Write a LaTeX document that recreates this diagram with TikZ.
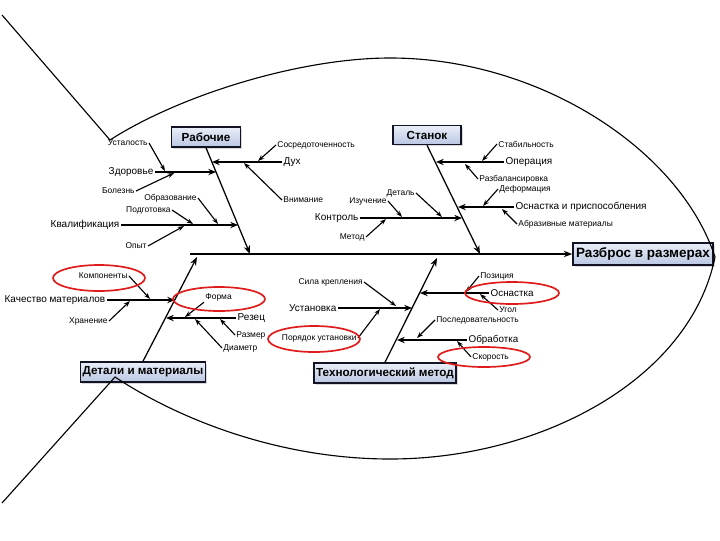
\documentclass[tikz,border=0pt]{standalone}
\usepackage{fontspec}
\setmainfont{Liberation Sans}
\usetikzlibrary{arrows.meta,shadows}
\definecolor{boxtop}{RGB}{234,238,248}
\definecolor{boxbot}{RGB}{186,198,226}
\definecolor{boxline}{RGB}{18,20,38}
\definecolor{ring}{RGB}{222,28,28}

\begin{document}
\begin{tikzpicture}[
    x=0.025cm, y=-0.025cm,
    catbox/.style={rectangle, draw=boxline, line width=1.1pt, top color=boxtop, bottom color=boxbot, inner sep=1pt, font=\fontsize{8.3}{10}\selectfont\bfseries, drop shadow={shadow xshift=1.3pt, shadow yshift=-1.3pt, opacity=0.3}},
    effbox/.style={catbox, font=\fontsize{9.6}{11}\selectfont\bfseries},
    causelbl/.style={inner sep=1pt, font=\fontsize{7.1}{8.5}\selectfont},
    sublbl/.style={inner sep=0.8pt, font=\fontsize{6}{7}\selectfont},
    spinearr/.style={line width=1.3pt, -{Stealth[length=6pt,width=4.5pt]}},
    bonearr/.style={line width=0.9pt, -{Stealth[length=6pt,width=4.5pt]}},
    ribarr/.style={line width=1.4pt, -{Stealth[length=5.5pt,width=4.5pt]}},
    twigarr/.style={line width=0.8pt, -{Stealth[length=4.5pt,width=3.2pt]}},
    redring/.style={draw=ring, line width=1.2pt}
]
    \useasboundingbox (0,0) rectangle (720,540);

    % Category boxes and the effect
    \node[catbox, minimum width=1.725cm, minimum height=0.5cm] (rab) at (206,137) {Рабочие};
    \node[catbox, minimum width=1.7cm, minimum height=0.475cm] (stan) at (427,135) {Станок};
    \node[catbox, minimum width=3.125cm, minimum height=0.5cm] (det) at (143,372) {Детали и материалы};
    \node[catbox, minimum width=3.55cm, minimum height=0.5cm] (teh) at (385,373) {Технологический метод};
    \node[effbox, minimum width=3.5cm, minimum height=0.55cm] (eff) at (643,254) {Разброс в размерах};

    % Spine and main bones
    \coordinate (tailend) at (190,254);
    \coordinate (rabS) at (250,254);
    \coordinate (stanS) at (480,254);
    \coordinate (detS) at (197,257);
    \coordinate (tehS) at (437,258);
    \draw[spinearr] (tailend) -- (eff.west);
    \draw[bonearr] (rab.south) -- (rabS);
    \draw[bonearr] (stan.south) -- (stanS);
    \draw[bonearr] (det.north) -- (detS);
    \draw[bonearr] (teh.north) -- (tehS);

    % Рабочие
    \node[causelbl, anchor=east] (zdor) at (155,172) {Здоровье};
    \node[causelbl, anchor=east] (kval) at (121,225) {Квалификация};
    \node[causelbl, anchor=west] (duh) at (282,162) {Дух};
    \coordinate (zdorE) at (216,172);
    \coordinate (kvalE) at (238,225);
    \coordinate (duhE) at (212,162);
    \draw[ribarr] (zdor.east) -- (zdorE);
    \draw[ribarr] (kval.east) -- (kvalE);
    \draw[ribarr] (duh.west) -- (duhE);

    \node[sublbl, anchor=east] (ustal) at (149,143) {Усталость};
    \node[sublbl, anchor=east] (bolez) at (136,191) {Болезнь};
    \node[sublbl, anchor=east] (obraz) at (198,198) {Образование};
    \node[sublbl, anchor=east] (podg) at (172,210) {Подготовка};
    \node[sublbl, anchor=east] (opyt) at (148,246) {Опыт};
    \node[sublbl, anchor=west] (sosr) at (276,145) {Сосредоточенность};
    \node[sublbl, anchor=west] (vnim) at (282,200) {Внимание};
    \coordinate (ustalE) at (165,171);
    \coordinate (bolezE) at (174,173);
    \coordinate (obrazE) at (218,224);
    \coordinate (podgE) at (193,224);
    \coordinate (opytE) at (184,226);
    \coordinate (sosrE) at (258,161);
    \coordinate (vnimE) at (244,163);
    \draw[twigarr] (ustal.east) -- (ustalE);
    \draw[twigarr] (bolez.east) -- (bolezE);
    \draw[twigarr] (obraz.east) -- (obrazE);
    \draw[twigarr] (podg.east) -- (podgE);
    \draw[twigarr] (opyt.east) -- (opytE);
    \draw[twigarr] (sosr.west) -- (sosrE);
    \draw[twigarr] (vnim.west) -- (vnimE);

    % Станок
    \node[causelbl, anchor=west] (oper) at (504,162) {Операция};
    \node[causelbl, anchor=west] (osnpr) at (514,207) {Оснастка и приспособления};
    \node[causelbl, anchor=east] (kontr) at (360,218) {Контроль};
    \coordinate (operE) at (436,162);
    \coordinate (osnprE) at (458,207);
    \coordinate (kontrE) at (462,218);
    \draw[ribarr] (oper.west) -- (operE);
    \draw[ribarr] (osnpr.west) -- (osnprE);
    \draw[ribarr, line width=1pt] (kontr.east) -- (kontrE);

    \node[sublbl, anchor=west] (stab) at (497,144) {Стабильность};
    \node[sublbl, anchor=west] (razb) at (478,179) {Разбалансировка};
    \node[sublbl, anchor=west] (deform) at (498,189) {Деформация};
    \node[sublbl, anchor=west] (abraz) at (517,224) {Абразивные материалы};
    \node[sublbl, anchor=east] (izuch) at (388,201) {Изучение};
    \node[sublbl, anchor=east] (detal) at (416,193) {Деталь};
    \node[sublbl, anchor=east] (metod) at (366,237) {Метод};
    \coordinate (stabE) at (482,161);
    \coordinate (razbE) at (465,164);
    \coordinate (deformE) at (483,206);
    \coordinate (abrazE) at (502,209);
    \coordinate (izuchE) at (402,217);
    \coordinate (detalE) at (442,217);
    \coordinate (metodE) at (386,219);
    \draw[twigarr] (stab.west) -- (stabE);
    \draw[twigarr] (razb.west) -- (razbE);
    \draw[twigarr] (deform.west) -- (deformE);
    \draw[twigarr] (abraz.west) -- (abrazE);
    \draw[twigarr] (izuch.east) -- (izuchE);
    \draw[twigarr] (detal.east) -- (detalE);
    \draw[twigarr] (metod.east) -- (metodE);

    % Детали и материалы
    \node[causelbl, anchor=east] (kach) at (107,300) {Качество материалов};
    \node[causelbl, anchor=west] (rezec) at (236,318) {Резец};
    \coordinate (kachE) at (175,300);
    \coordinate (rezecE) at (166,318);
    \draw[ribarr] (kach.east) -- (kachE);
    \draw[ribarr] (rezec.west) -- (rezecE);

    \node[sublbl, anchor=east] (komp) at (129,276) {Компоненты};
    \node[sublbl, anchor=east] (hran) at (109,321) {Хранение};
    \node[sublbl, anchor=west] (forma) at (204,297) {Форма};
    \node[sublbl, anchor=west] (razm) at (235,335) {Размер};
    \node[sublbl, anchor=west] (diam) at (222,348) {Диаметр};
    \coordinate (kompE) at (150,299);
    \coordinate (hranE) at (130,301);
    \coordinate (formaE) at (185,317);
    \coordinate (razmE) at (220,319);
    \coordinate (diamE) at (195,319);
    \draw[twigarr] (komp.east) -- (kompE);
    \draw[twigarr] (hran.east) -- (hranE);
    \draw[twigarr] (forma.south west) -- (formaE);
    \draw[twigarr] (razm.west) -- (razmE);
    \draw[twigarr] (diam.west) -- (diamE);

    % Технологический метод
    \node[causelbl, anchor=east] (ustan) at (338,308) {Установка};
    \node[causelbl, anchor=west, font=\fontsize{7}{8}\selectfont] (osnast) at (489,293) {Оснастка};
    \node[causelbl, anchor=west, font=\fontsize{7}{8}\selectfont] (obrab) at (467,340) {Обработка};
    \coordinate (ustanE) at (412,308);
    \coordinate (osnastE) at (420,293);
    \coordinate (obrabE) at (397,340);
    \draw[ribarr] (ustan.east) -- (ustanE);
    \draw[ribarr, line width=1.1pt] (osnast.west) -- (osnastE);
    \draw[ribarr, line width=1.1pt] (obrab.west) -- (obrabE);

    \node[sublbl, anchor=east] (sila) at (364,282) {Сила крепления};
    \node[sublbl, anchor=east] (poryad) at (358,338) {Порядок установки};
    \node[sublbl, anchor=west] (pozic) at (479,276) {Позиция};
    \node[sublbl, anchor=west] (ugol) at (498,310) {Угол};
    \node[sublbl, anchor=west] (posl) at (435,320) {Последовательность};
    \node[sublbl, anchor=west] (skor) at (471,357) {Скорость};
    \coordinate (silaE) at (396,306);
    \coordinate (poryadE) at (380,309);
    \coordinate (pozicE) at (466,292);
    \coordinate (ugolE) at (480,294);
    \coordinate (poslE) at (417,338);
    \coordinate (skorE) at (457,341);
    \draw[twigarr] (sila.east) -- (silaE);
    \draw[twigarr] (poryad.east) -- (poryadE);
    \draw[twigarr] (pozic.west) -- (pozicE);
    \draw[twigarr] (ugol.west) -- (ugolE);
    \draw[twigarr] (posl.west) -- (poslE);
    \draw[twigarr] (skor.west) -- (skorE);

    % Red marks
    \draw[redring] (99,278) ellipse [x radius=1.15cm, y radius=0.325cm];
    \draw[redring] (219,299) ellipse [x radius=1.15cm, y radius=0.3cm];
    \draw[redring] (314,339) ellipse [x radius=1.15cm, y radius=0.325cm];
    \draw[redring] (512,293) ellipse [x radius=1.175cm, y radius=0.275cm];
    \draw[redring] (484,357) ellipse [x radius=1.15cm, y radius=0.25cm];

    % Fish outline
    \draw[line width=0.8pt] (2,15) -- (110,140) .. controls (180,95) and (300,58) .. (390,58)
        .. controls (540,58) and (680,150) .. (715,257)
        .. controls (690,380) and (540,459) .. (390,459)
        .. controls (280,459) and (180,420) .. (115,377) -- (2,503);
\end{tikzpicture}
\end{document}
